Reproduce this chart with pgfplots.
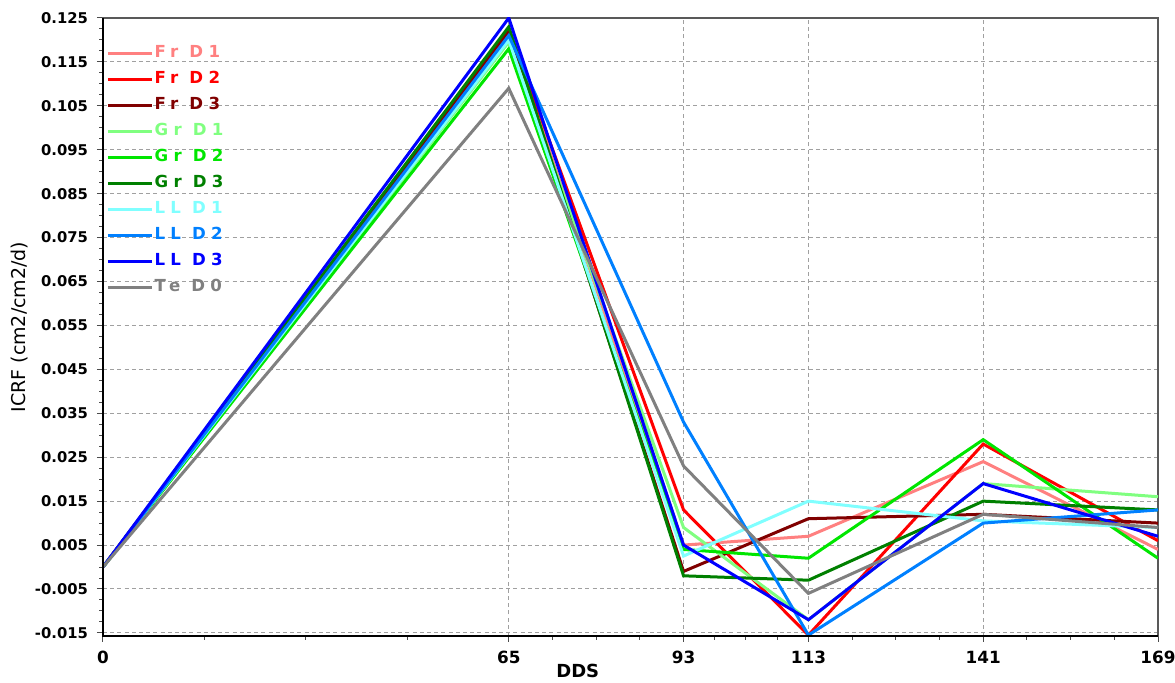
\documentclass[border=0pt]{standalone}
\usepackage{fontspec}
\setmainfont{DejaVu Sans}
\newfontfamily\legfont[LetterSpace=32]{DejaVu Sans}
\usepackage{pgfplots}
\usepackage{pgfplotstable}
\pgfplotsset{compat=1.18}

\definecolor{frone}{RGB}{255,128,128}
\definecolor{frtwo}{RGB}{255,0,0}
\definecolor{frthree}{RGB}{128,0,0}
\definecolor{grone}{RGB}{128,255,128}
\definecolor{grtwo}{RGB}{0,230,0}
\definecolor{grthree}{RGB}{0,128,0}
\definecolor{llone}{RGB}{128,255,255}
\definecolor{lltwo}{RGB}{0,128,255}
\definecolor{llthree}{RGB}{0,0,255}
\definecolor{teo}{RGB}{128,128,128}
\definecolor{gridc}{RGB}{160,160,160}

\pgfplotstableread{
x    frA     frB     frC     grA     grB     grC     llA     llB     llC     te
0    0.000   0.000   0.000   0.000   0.000   0.000   0.000   0.000   0.000   0.000
65   0.122   0.1225  0.122   0.1195  0.118   0.123   0.120   0.121   0.125   0.109
93   0.005   0.013   -0.001  0.009   0.004   -0.002  0.0025  0.033   0.005   0.023
113  0.007   -0.0155 0.011   -0.012  0.002   -0.003  0.015   -0.0155 -0.012  -0.006
141  0.024   0.028   0.012   0.019   0.029   0.015   0.0105  0.010   0.019   0.012
169  0.004   0.006   0.010   0.016   0.002   0.013   0.009   0.013   0.007   0.009
}\data

\begin{document}
\begin{tikzpicture}
\begin{axis}[
  name=ax,
  scale only axis,
  width=527.5pt, height=309pt,
  xmin=0, xmax=169,
  ymin=-0.0157, ymax=0.125,
  xtick={0,65,93,113,141,169},
  xticklabels={0,65,93,113,141,169},
  minor xtick={16.25,32.5,48.75,72,79,86,98,103,108,120,127,134,148,155,162},
  ytick={-0.015,-0.005,0.005,0.015,0.025,0.035,0.045,0.055,0.065,0.075,0.085,0.095,0.105,0.115,0.125},
  yticklabels={-0.015,-0.005,0.005,0.015,0.025,0.035,0.045,0.055,0.065,0.075,0.085,0.095,0.105,0.115,0.125},
  minor y tick num=3,
  tick align=outside,
  major tick length=3pt,
  minor tick length=1.8pt,
  tick style={black!70, line width=0.5pt},
  xtick pos=bottom, ytick pos=left,
  xticklabel style={font=\bfseries\fontsize{8.4}{9}\selectfont, yshift=-1pt},
  yticklabel style={font=\bfseries\fontsize{7.4}{8}\selectfont, xshift=-1pt},
  grid=major,
  grid style={gridc, dash pattern=on 2pt off 1.6pt, line width=0.5pt},
  axis line style={draw=black!65, line width=0.6pt},
  xlabel={DDS},
  xlabel style={at={(axis description cs:0.45,0)}, anchor=center, yshift=-17.5pt,
    font=\bfseries\fontsize{9}{10}\selectfont},
  ylabel={ICRF (cm2/cm2/d)},
  ylabel style={at={(axis description cs:-0.0787,0.5)}, anchor=center,
    font=\fontsize{9.5}{10}\selectfont},
  clip mode=individual,
  legend style={at={(axis description cs:0,1)}, anchor=north west,
    xshift=1.5pt, yshift=-13pt, draw=none, fill=none,
    font=\legfont\bfseries\fontsize{8.3}{9}\selectfont,
    row sep=4.3pt, inner sep=0pt,
    nodes={inner sep=0.6pt, text height=6pt, text depth=1.5pt}},
  legend cell align=left,
  legend image code/.code={\draw[#1, line width=1.5pt] (0pt,0pt) -- (22pt,0pt);},
  every axis plot/.append style={line width=1.5pt, mark=none},
]
\addplot[frone]   table[x=x, y=frA] {\data}; \addlegendentry{\textcolor{frone}{Fr D1}}
\addplot[frtwo]   table[x=x, y=frB] {\data}; \addlegendentry{\textcolor{frtwo}{Fr D2}}
\addplot[frthree] table[x=x, y=frC] {\data}; \addlegendentry{\textcolor{frthree}{Fr D3}}
\addplot[grone]   table[x=x, y=grA] {\data}; \addlegendentry{\textcolor{grone}{Gr D1}}
\addplot[grtwo]   table[x=x, y=grB] {\data}; \addlegendentry{\textcolor{grtwo}{Gr D2}}
\addplot[grthree] table[x=x, y=grC] {\data}; \addlegendentry{\textcolor{grthree}{Gr D3}}
\addplot[llone]   table[x=x, y=llA] {\data}; \addlegendentry{\textcolor{llone}{LL D1}}
\addplot[lltwo]   table[x=x, y=llB] {\data}; \addlegendentry{\textcolor{lltwo}{LL D2}}
\addplot[llthree] table[x=x, y=llC] {\data}; \addlegendentry{\textcolor{llthree}{LL D3}}
\addplot[teo]     table[x=x, y=te]  {\data}; \addlegendentry{\textcolor{teo}{Te D0}}
\end{axis}
\draw[black, line width=1.1pt] (ax.north west) -- (ax.south west) -- (ax.south east);
\pgfresetboundingbox
\path[use as bounding box] ([shift={(-51.5pt,-23.5pt)}]ax.south west) rectangle ([shift={(8.5pt,9pt)}]ax.north east);
\end{tikzpicture}
\end{document}
